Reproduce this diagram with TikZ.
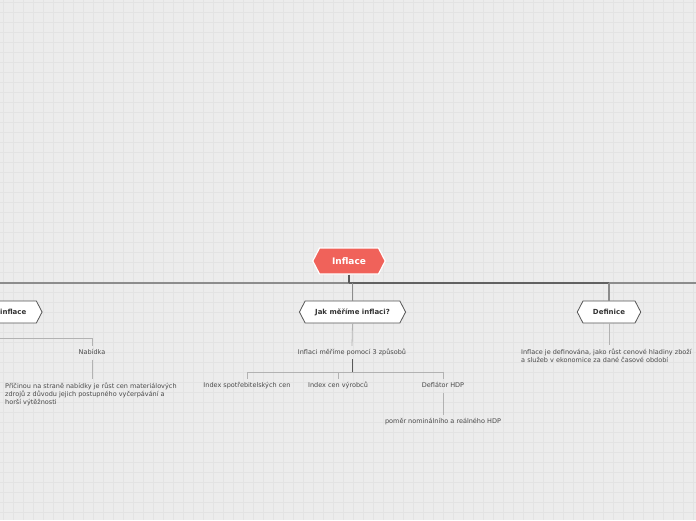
\documentclass[tikz,border=0pt]{standalone}
\usepackage{fontspec}
\setmainfont{DejaVu Sans}
\usetikzlibrary{shapes.symbols}
\definecolor{bg}{HTML}{ECECEC}
\definecolor{gridc}{HTML}{E3E3E3}
\definecolor{rootc}{HTML}{F0625A}
\definecolor{txt}{HTML}{4A4A4A}
\definecolor{bord}{HTML}{555555}
\tikzset{
  hexbase/.style={shape=signal, signal to=west and east, signal pointer angle=125,
    minimum height=22pt, inner ysep=0pt, inner xsep=10pt, font=\bfseries\fontsize{7}{8}\selectfont},
  rootnode/.style={hexbase, fill=rootc, draw=white, line width=1.2pt, text=white,
    minimum height=26pt, inner xsep=12.5pt, font=\bfseries\fontsize{9}{10}\selectfont},
  topic/.style={hexbase, fill=white, draw=bord, line width=0.8pt, text=black!80},
  leaf/.style={text=txt, font=\fontsize{6.5}{8}\selectfont, inner xsep=1pt, inner ysep=3.5pt,
    text height=4.5pt, text depth=1.5pt},
  para/.style={text=txt, font=\fontsize{6.5}{8}\selectfont, inner xsep=0pt, inner ysep=3.5pt,
    align=left, anchor=north west},
  mainline/.style={draw=black!55, line width=1.5pt},
  branch/.style={draw=black!45, line width=1.3pt},
  sub/.style={draw=black!30, line width=0.8pt},
  subdark/.style={draw=black!65, line width=0.8pt},
}
\begin{document}
\begin{tikzpicture}[x=1pt,y=-1pt]
\useasboundingbox (0,0) rectangle (696,520);
\clip (0,0) rectangle (696,520);
\fill[bg] (0,0) rectangle (696,520);
\foreach \x in {3,13,...,693} \draw[gridc, line width=0.5pt] (\x,0) -- (\x,520);
\foreach \y in {2,12,...,512} \draw[gridc, line width=0.5pt] (0,\y) -- (696,\y);

% nodes
\node[rootnode] (root) at (349,261) {Inflace};
\node[topic] (pri) at (-1.5,312) {Příčiny inflace};
\node[topic] (jak) at (352.5,312) {Jak měříme inflaci?};
\node[topic] (def) at (609,312) {Definice};

\node[leaf] (nab) at (92,353) {Nabídka};
\node[para] (prit) at (5,379) {Příčinou na straně nabídky je růst cen materiálových\\zdrojů z důvodu jejich postupného vyčerpávání a\\horší výtěžnosti};

\node[leaf] (t1) at (352,352.5) {Inflaci měříme pomocí 3 způsobů};
\node[leaf] (i1) at (247,386) {Index spotřebitelských cen};
\node[leaf] (i2) at (338,386) {Index cen výrobců};
\node[leaf] (i3) at (443,386) {Deflátor HDP};
\node[leaf] (i4) at (443,421.5) {poměr nominálního a reálného HDP};

\node[para] (dt) at (521,345) {Inflace je definována, jako růst cenové hladiny zboží\\a služeb v ekonomice za dané časové období};

% connectors
\coordinate (hl) at (0,283);
\coordinate (hm) at (349,283);
\coordinate (hr) at (696,283);
\draw[mainline, draw=black!45] (hl) -- (hm);
\draw[mainline, draw=black!62] (hm) -- (609,283);
\draw[mainline, draw=black!45] (609,283) -- (hr);
\draw[subdark, line width=1.2pt] (root.south) -- (hm);
\draw[branch] (jak.north |- hl) -- (jak.north);
\draw[branch] (def.north |- hl) -- (def.north);
\draw[branch] (pri.north |- hl) -- (pri.north);

\coordinate (lb) at (-1.5,338);
\draw[sub] (pri.south) -- (lb) -| (nab.north);
\draw[sub] (nab.south) -- (nab.south |- prit.north);

\draw[sub] (jak.south) -- (t1.north);
\coordinate (b) at (352,372);
\draw[subdark] (t1.south) -- (b);
\draw[sub] (b) -| (i1.north);
\draw[sub] (b) -| (i2.north);
\draw[sub] (b) -| (i3.north);
\draw[sub] (i3.south) -- (i4.north);

\draw[sub] (def.south) -- (def.south |- dt.north);
\end{tikzpicture}
\end{document}
